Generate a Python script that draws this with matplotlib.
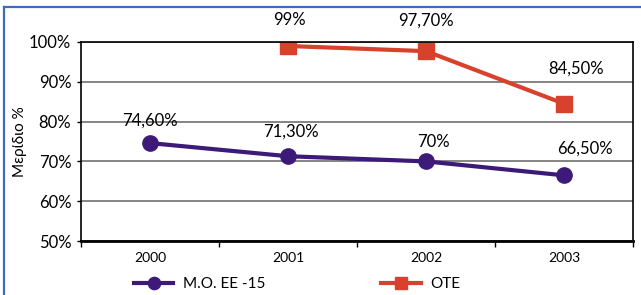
import numpy as np
import matplotlib.pyplot as plt
from matplotlib.lines import Line2D

plt.rcParams['font.family'] = ['Lato', 'DejaVu Sans']

# --- Data ---
years = ["2000", "2001", "2002", "2003"]
mo_ee15 = [74.6, 71.3, 70.0, 66.5]
ote = [np.nan, 99.0, 97.7, 84.5]
mo_labels = ["74,60%", "71,30%", "70%", "66,50%"]
ote_labels = ["", "99%", "97,70%", "84,50%"]

purple = "#3d1a78"
red = "#d8412c"

fig = plt.figure(figsize=(6.41, 2.95), dpi=100)
ax = fig.add_axes([81 / 641, 54 / 295, 552 / 641, 199 / 295])

x = np.arange(len(years))
ax.plot(x, mo_ee15, color=purple, lw=3, marker="o", ms=11, label="M.O. EE -15")
ax.plot(x, ote, color=red, lw=3, marker="s", ms=11, label="OTE")

# labels above points
mo_off = [(0, 16), (2, 18), (5, 14), (15, 19)]
for xi, v, t, (dx, dy) in zip(x, mo_ee15, mo_labels, mo_off):
    ax.annotate(t, (xi, v), xytext=(dx, dy), textcoords="offset points",
                ha="center", va="center", fontsize=12)
ote_off = [(0, 0), (1, 19), (0, 22), (9, 25)]
for xi, v, t, (dx, dy) in zip(x, ote, ote_labels, ote_off):
    if t:
        ax.annotate(t, (xi, v), xytext=(dx, dy), textcoords="offset points",
                    ha="center", va="center", fontsize=12, annotation_clip=False)

ax.set_xlim(-0.5, 3.5)
ax.set_ylim(50, 100)
ax.set_yticks([50, 60, 70, 80, 90, 100])
ax.set_yticklabels([f"{v}%" for v in range(50, 101, 10)], fontsize=12)
ax.set_xticks(x)
ax.set_xticklabels(years, fontsize=10)
ax.set_xticks([-0.5, 0.5, 1.5, 2.5, 3.5], minor=True)
ax.tick_params(axis="x", which="major", length=0, pad=8)
ax.tick_params(axis="x", which="minor", length=4, width=1, direction="out")
ax.tick_params(axis="y", length=3, width=1, pad=4)

ax.grid(axis="y", color="#707070", lw=1.2)
ax.set_axisbelow(True)
for side in ["left", "top", "right"]:
    ax.spines[side].set_linewidth(1.2)
ax.spines["bottom"].set_linewidth(2)

ax.set_ylabel("Μερίδιο %", fontsize=11)
ax.yaxis.set_label_coords(-0.098, 0.5)

fig.legend(loc="center left", bbox_to_anchor=(126 / 641, 1 - 284 / 295), ncol=2,
           frameon=False, fontsize=11, handlelength=2.6, handletextpad=0.6,
           columnspacing=7.6, borderpad=0, markerscale=0.8)

# outer blue border (top and left)
fig.add_artist(Line2D([4 / 641, 1], [1 - 7 / 295, 1 - 7 / 295], color="#3a6cc0", lw=1.6))
fig.add_artist(Line2D([4 / 641, 4 / 641], [0, 1 - 7 / 295], color="#3a6cc0", lw=1.6))

fig.savefig("out.png", dpi=100)
